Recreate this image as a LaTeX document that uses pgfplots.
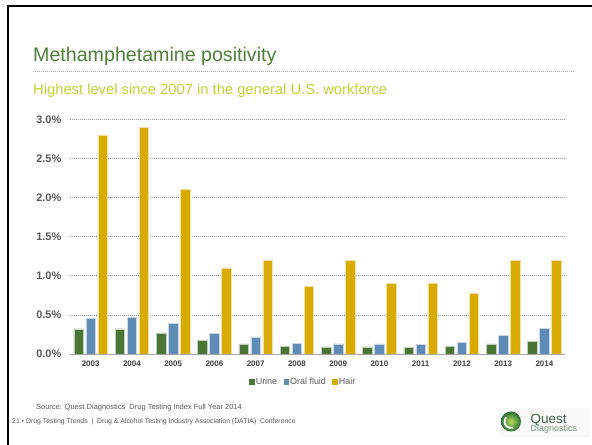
\documentclass[border=0pt]{standalone}
\usepackage{fontspec}
\setmainfont{Liberation Sans}
\usepackage{pgfplots}
\usepackage{pgfplotstable}
\pgfplotsset{compat=1.18}
\definecolor{urine}{RGB}{74,117,53}
\definecolor{oral}{RGB}{95,139,183}
\definecolor{hair}{RGB}{217,170,0}
\definecolor{titlegreen}{RGB}{80,128,56}
\definecolor{subgreen}{RGB}{192,212,52}
\definecolor{labgray}{RGB}{89,89,89}
\definecolor{xlabgray}{RGB}{64,64,64}
\definecolor{axgray}{RGB}{166,166,166}
\definecolor{questgreen}{RGB}{62,100,70}
\definecolor{diaggreen}{RGB}{120,150,125}

\pgfplotstableread{
x urine oral hair
0 0.32 0.45 2.80
1 0.32 0.47 2.90
2 0.27 0.39 2.10
3 0.17 0.26 1.10
4 0.13 0.21 1.20
5 0.10 0.14 0.86
6 0.09 0.13 1.20
7 0.09 0.13 0.90
8 0.08 0.12 0.91
9 0.10 0.15 0.77
10 0.13 0.24 1.20
11 0.16 0.33 1.20
}\datatable

\begin{document}
\begin{tikzpicture}[x=1bp,y=1bp]
\useasboundingbox (0,0) rectangle (592,445);
\fill[white] (0,0) rectangle (592,445);
\fill[black] (7,440) rectangle (592,438);
\fill[black] (7,440) rectangle (9,0);
\node[anchor=base west, inner sep=0, text=titlegreen, font=\fontsize{19.7}{20}\selectfont] at (33,383.3) {Methamphetamine positivity};
\draw[gray!70, line width=0.7bp, dash pattern=on 0.8bp off 1.2bp] (33,373.3) -- (575,373.3);
\node[anchor=base west, inner sep=0, text=subgreen, font=\fontsize{14.8}{15}\selectfont] at (33,350.7) {Highest level since 2007 in the general U.S. workforce};

\begin{axis}[
  at={(70bp,91bp)}, anchor=south west, scale only axis,
  width=495bp, height=234.7bp,
  ybar, bar width=9.5bp,
  xmin=-0.5, xmax=11.5, ymin=0, ymax=3,
  axis x line*=bottom, axis y line*=left,
  y axis line style={draw=none},
  x axis line style={draw=axgray, line width=0.8bp},
  major tick length=0pt,
  xtick={0,...,11},
  xticklabels={2003,2004,2005,2006,2007,2008,2009,2010,2011,2012,2013,2014},
  ytick={0,0.5,1,1.5,2,2.5,3},
  yticklabels={0.0\%,0.5\%,1.0\%,1.5\%,2.0\%,2.5\%,3.0\%},
  ymajorgrids,
  grid style={gray!80, line width=0.7bp, dash pattern=on 0.8bp off 1.2bp},
  yticklabel style={font=\bfseries\fontsize{11}{11}\selectfont, text=labgray, inner sep=0pt, xshift=-8.5bp},
  xticklabel style={font=\bfseries\fontsize{8}{8}\selectfont, text=xlabgray, inner sep=0pt, yshift=-7bp},
  legend style={at={(0.4707,-0.118)}, anchor=center, legend columns=3, draw=none, fill=none,
    font=\fontsize{9}{9}\selectfont, text=labgray, inner sep=0pt,
    nodes={inner sep=1.4bp},
    /tikz/every even column/.append style={column sep=5bp}},
]
\addplot[fill=urine, draw=urine!35!white, line width=0.6bp, bar shift=-12bp,
  legend image code/.code={\fill[urine] (0bp,-2.2bp) rectangle (4.5bp,2.3bp);}]
  table[x=x,y=urine]{\datatable};
\addlegendentry{Urine}
\addplot[fill=oral, draw=oral!35!white, line width=0.6bp, bar shift=0bp,
  legend image code/.code={\fill[oral] (0bp,-2.2bp) rectangle (4.5bp,2.3bp);}]
  table[x=x,y=oral]{\datatable};
\addlegendentry{Oral fluid}
\addplot[fill=hair, draw=hair!35!white, line width=0.6bp, bar shift=12bp,
  legend image code/.code={\fill[hair] (0bp,-2.2bp) rectangle (4.5bp,2.3bp);}]
  table[x=x,y=hair]{\datatable};
\addlegendentry{Hair}
\end{axis}

\node[anchor=base west, inner sep=0, text=labgray, font=\fontsize{7.5}{8}\selectfont] at (36,35.5) {Source: Quest Diagnostics\ \ Drug Testing Index Full Year 2014};
\node[anchor=base west, inner sep=0, text=labgray, font=\fontsize{6.9}{7}\selectfont] at (12,21) {21 • Drug Testing Trends\ \ |\ \ Drug \& Alcohol Testing Industry Association (DATIA)\ \ Conference};

\fill[gray!5] (499,8) rectangle (590,37);
\shade[inner color={rgb,255:red,185;green,222;blue,90}, outer color={rgb,255:red,40;green,110;blue,50}] (511,23.5) circle (10);
\draw[white, line width=1.8bp] (511,23.5) ++(140:6.5) arc (140:290:6.5);
\node[anchor=base west, inner sep=0, text=questgreen, font=\fontsize{13.5}{14}\selectfont] at (530.5,21.5) {Quest};
\node[anchor=base west, inner sep=0, text=diaggreen, font=\fontsize{9}{9}\selectfont] at (530.5,13) {Diagnostics};
\end{tikzpicture}
\end{document}
